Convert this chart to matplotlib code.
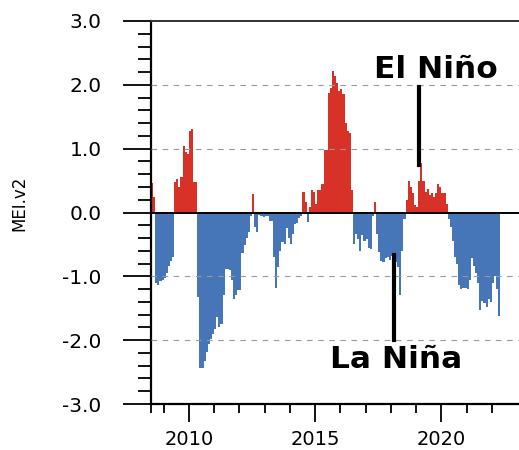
import numpy as np
import matplotlib
matplotlib.use("Agg")
import matplotlib.pyplot as plt
from matplotlib.ticker import FixedLocator, MultipleLocator, FormatStrFormatter

# monthly MEI.v2 values, first value is Jul 2008
start_year = 2008.5
mei_2008 = [0.46, 0.25, -1.10, -1.13, -1.07, -1.05]
mei_2009 = [-1.02, -0.94, -0.84, -0.76, -0.70, 0.48, 0.52, 0.40, 0.56, 1.04, 0.95, 0.92]
mei_2010 = [1.27, 1.31, 0.48, 0.48, -1.33, -2.43, -2.43, -2.33, -2.19, -2.06, -1.98, -1.90]
mei_2011 = [-1.83, -1.64, -1.80, -1.75, -1.30, -0.88, -0.88, -0.90, -1.06, -1.35, -1.30, -1.22]
mei_2012 = [-1.22, -0.64, -0.51, -0.40, -0.30, -0.06, 0.29, -0.22, -0.30, -0.04, -0.05, -0.07]
mei_2013 = [-0.06, -0.06, -0.14, -0.14, -0.69, -1.18, -0.86, -0.60, -0.46, -0.49, -0.25, -0.40]
mei_2014 = [-0.49, -0.34, -0.18, -0.17, -0.08, -0.05, 0.32, 0.16, -0.15, 0.08, 0.35, 0.32]
mei_2015 = [0.14, 0.35, 0.35, 0.45, 0.98, 0.98, 1.87, 1.95, 2.22, 2.14, 2.03, 1.90]
mei_2016 = [1.93, 1.85, 1.40, 1.28, 1.25, 0.36, -0.49, -0.34, -0.42, -0.60, -0.36, -0.45]
mei_2017 = [-0.42, -0.55, -0.57, -0.05, 0.17, -0.34, -0.62, -0.76, -0.78, -0.72, -0.70, -0.74]
mei_2018 = [-0.68, -0.72, -0.78, -0.85, -1.30, -0.60, -0.10, 0.19, 0.50, 0.40, 0.30, 0.11]
mei_2019 = [0.08, 0.50, 0.77, 0.50, 0.32, 0.37, 0.27, 0.30, 0.24, 0.30, 0.45, 0.40]
mei_2020 = [0.30, 0.30, 0.14, -0.10, -0.23, -0.45, -0.70, -0.81, -1.13, -1.20, -1.18, -1.18]
mei_2021 = [-1.20, -1.05, -0.72, -0.84, -0.95, -1.10, -1.52, -1.38, -1.42, -1.48, -1.36, -1.40]
mei_2022 = [-1.10, -1.00, -1.20, -1.62]

major_years = [2010, 2015, 2020]
y_ticks = [-3.0, -2.0, -1.0, 0.0, 1.0, 2.0, 3.0]
grid_levels = [-2.0, -1.0, 1.0, 2.0]

mei = np.array(mei_2008 + mei_2009 + mei_2010 + mei_2011 + mei_2012 + mei_2013 + mei_2014
               + mei_2015 + mei_2016 + mei_2017 + mei_2018 + mei_2019 + mei_2020 + mei_2021
               + mei_2022)
t = start_year + np.arange(len(mei)) / 12.0

RED = "#d83128"
BLUE = "#4676b7"
colors = [RED if v > 0 else BLUE for v in mei]

plt.rcParams["font.family"] = "DejaVu Sans"

fig = plt.figure(figsize=(5.19, 4.5), dpi=100)
ax = fig.add_axes([151 / 519, 46 / 450, 368.6 / 519, 383 / 450])

ax.bar(t, mei, width=1 / 12, align="edge", color=colors, linewidth=0, zorder=2)

# dashed guides over the bars, solid zero line
for g in grid_levels:
    ax.axhline(g, color="#9a9a9a", lw=0.8, ls=(0, (5, 5)), zorder=3)
ax.axhline(0, color="black", lw=1.4, zorder=4)

ax.set_xlim(2008.5, 2023.1)
ax.set_ylim(-3, 3)

ax.xaxis.set_major_locator(FixedLocator(major_years))
ax.xaxis.set_minor_locator(FixedLocator([2008.5] + list(range(2009, 2023))))
ax.yaxis.set_major_locator(FixedLocator(y_ticks))
ax.yaxis.set_minor_locator(MultipleLocator(0.2))
ax.yaxis.set_major_formatter(FormatStrFormatter("%.1f"))

ax.tick_params(axis="y", which="major", length=20, width=1.3, pad=15.5, labelsize=14.5)
ax.tick_params(axis="y", which="minor", length=9.5, width=1.3)
ax.tick_params(axis="x", which="major", length=13, width=1.3, pad=6, labelsize=14)
ax.tick_params(axis="x", which="minor", length=6.5, width=1.3)

for side in ["left", "bottom"]:
    ax.spines[side].set_linewidth(1.6)
ax.spines["top"].set_linewidth(1.4)
ax.spines["top"].set_color("#333333")
ax.spines["right"].set_visible(False)

ax.text(-0.358, 0.525, "MEI.v2", transform=ax.transAxes, rotation=90,
        ha="center", va="center", fontsize=12)

# El Nino / La Nina callouts
ax.plot([2019.13, 2019.13], [0.75, 1.96], color="black", lw=3, zorder=5)
ax.text(2019.8, 2.24, "El Niño", ha="center", va="center", fontsize=22.5, fontweight="bold")
ax.plot([2018.11, 2018.11], [-0.67, -2.0], color="black", lw=3, zorder=5)
ax.text(2018.22, -2.3, "La Niña", ha="center", va="center", fontsize=22.5, fontweight="bold")

fig.savefig("out.png", dpi=100)
